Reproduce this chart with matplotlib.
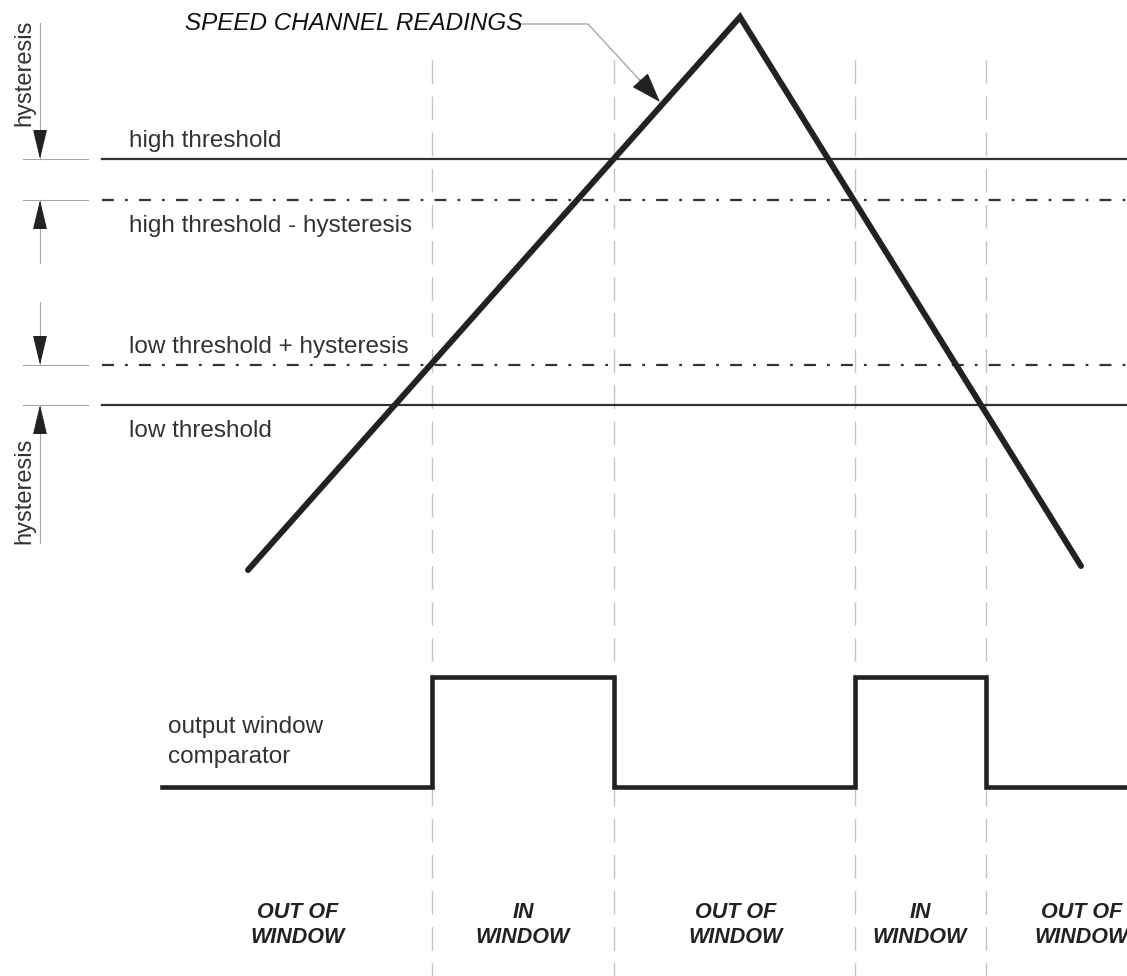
import matplotlib
matplotlib.use('Agg')
import matplotlib.pyplot as plt

# drawing space is the picture itself: x to the right, y downward (pixels)
W, H = 1127, 976

# speed channel readings (triangle ramp)
ramp_x = [248, 740, 1081]
ramp_y = [570, 17, 566]

# threshold levels
thr_labels = ['high threshold', 'high threshold - hysteresis',
              'low threshold + hysteresis', 'low threshold']
thr_levels = [159, 200, 365, 405]
thr_solid = [True, False, False, True]
thr_label_above = [True, False, True, False]

# window comparator output
edges = [162, 432, 614, 855, 986, 1127]
states = [0, 1, 0, 1, 0]
level_low, level_high = 787, 677

# bottom labels
win_labels = ['OUT OF\nWINDOW', 'IN\nWINDOW', 'OUT OF\nWINDOW', 'IN\nWINDOW', 'OUT OF\nWINDOW']
win_centers = [298, 523, 736, 920, 1082]

# hysteresis dimension marks: (tip, tail) of each arrow
dim_arrows = [(159, 23), (200, 263), (365, 302), (405, 543)]
hyst_text_y = [73, 491]

plt.rcParams['font.family'] = ['Liberation Sans Narrow', 'Liberation Sans', 'DejaVu Sans']
plt.rcParams['lines.scale_dashes'] = False

fig = plt.figure(figsize=(W / 100, H / 100), dpi=100)
ax = fig.add_axes([0, 0, 1, 1])
ax.set_xlim(0, W)
ax.set_ylim(H, 0)
ax.axis('off')

ink = '#222222'
grey = '#a8a8a8'
txt = '#333333'

# window boundaries
for x in edges[1:-1]:
    ax.plot([x, x], [60, H], color='#c4c4c4', lw=1.0, ls=(0, (17, 9)), zorder=1)

# threshold lines and labels
for lab, lev, solid, above in zip(thr_labels, thr_levels, thr_solid, thr_label_above):
    ls = '-' if solid else (0, (8.6, 8, 2, 8))
    ax.plot([102, W], [lev, lev], color='#333333', lw=1.6, ls=ls, zorder=2)
    ty = lev - 12 if above else lev + 32
    ax.text(129, ty, lab, fontsize=17.5, color=txt, va='baseline', ha='left')
    ax.plot([23, 88], [lev, lev], color=grey, lw=0.8)

# hysteresis dimension arrows
for tip, tail in dim_arrows:
    ax.plot([40, 40], [tip, tail], color=grey, lw=0.8)
    d = 26 if tail > tip else -26
    ax.annotate('', xy=(40, tip), xytext=(40, tip + d),
                arrowprops=dict(arrowstyle='-|>,head_length=1.25,head_width=0.3',
                                mutation_scale=15, color=ink, lw=0.8,
                                shrinkA=0, shrinkB=0))
for ty in hyst_text_y:
    ax.text(24, ty, 'hysteresis', rotation=90, fontsize=17, color=txt,
            ha='center', va='center')

# speed ramp
ax.plot(ramp_x, ramp_y, color=ink, lw=4.3, solid_joinstyle='miter',
        solid_capstyle='round', zorder=3)

# leader to the ramp
ax.text(185, 23, 'SPEED CHANNEL READINGS', fontsize=17.5, style='italic',
        color='#111111', ha='left', va='center')
ax.plot([519, 588, 646], [24, 24, 87], color=grey, lw=1.0)
ax.annotate('', xy=(660, 102), xytext=(640, 80),
            arrowprops=dict(arrowstyle='-|>,head_length=1.3,head_width=0.45',
                            mutation_scale=15, color=ink, lw=0.8,
                            shrinkA=0, shrinkB=0))

# comparator output
wave_y = [level_high if s else level_low for s in states]
ax.step(edges, wave_y + [wave_y[-1]], where='post', color=ink, lw=3.3,
        solid_joinstyle='miter', zorder=3)
ax.text(168, 733, 'output window', fontsize=17.5, color=txt, ha='left', va='baseline')
ax.text(168, 763, 'comparator', fontsize=17.5, color=txt, ha='left', va='baseline')

# window labels
for lab, cx in zip(win_labels, win_centers):
    ax.text(cx, 925, lab, fontsize=15.5, fontweight='bold', style='italic',
            color=ink, ha='center', va='center', linespacing=1.25)

fig.savefig('out.png', dpi=100)
